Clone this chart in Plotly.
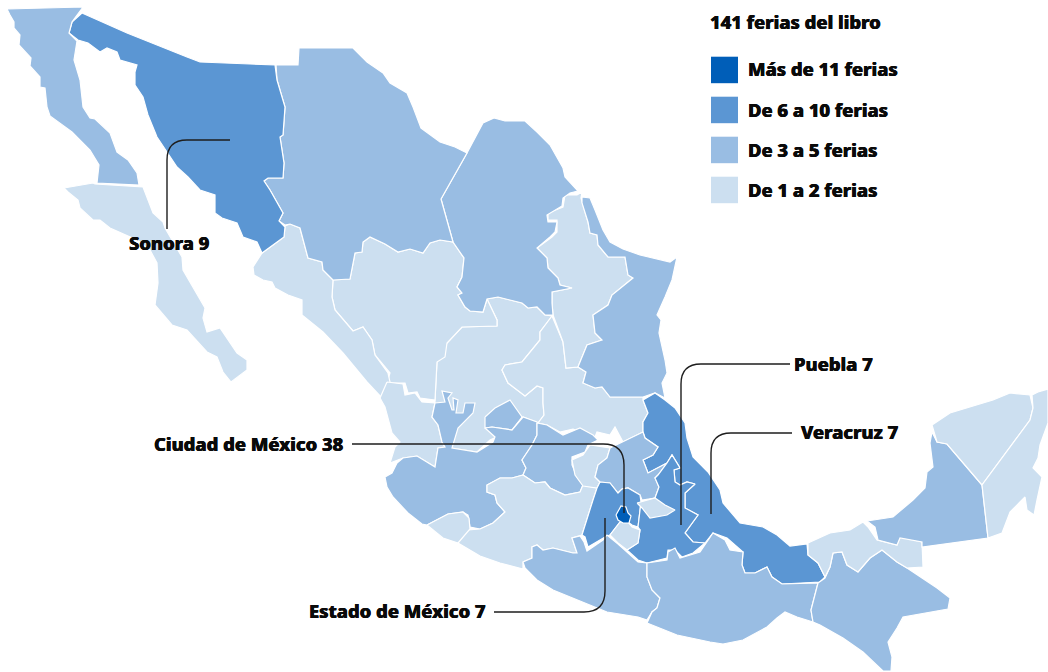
import plotly.graph_objects as go

# Number of fairs per state (labelled values exact, others estimated inside their class)
STATES = ["Zacatecas","Durango","Sinaloa","San Luis Potosí","Nuevo León","Coahuila","Tamaulipas","Chihuahua",
          "Sonora","Baja California","Baja California Sur","Aguascalientes","Nayarit","Jalisco","Guanajuato",
          "Michoacán","Colima","Querétaro","Veracruz","Hidalgo","Estado de México","Puebla","Tlaxcala","Morelos",
          "Ciudad de México","Guerrero","Oaxaca","Chiapas","Tabasco","Campeche","Yucatán","Quintana Roo"]
FERIAS = [2,1,2,2,2,4,4,4, 9,4,2,3,1,5,4, 2,1,2,7,3,7,7,1,2, 38,4,5,4,2,3,2,1]

BIN_LABELS = ["Más de 11 ferias","De 6 a 10 ferias","De 3 a 5 ferias","De 1 a 2 ferias"]
BIN_COLORS = ["#005EB8","#5B96D3","#99BDE3","#CCDFF0"]
TITLE = "141 ferias del libro"
CALLOUTS = ["Sonora 9","Ciudad de México 38","Estado de México 7","Puebla 7","Veracruz 7"]

OUTLINES = {
"Zacatecas":[(435,400),(437,362),(447,343),(462,327),(497,326),(497,320),(487,299),(498,297),(522,303),(528,308),(537,307),(545,315),(552,316),(549,320),(540,332),(540,340),(522,362),(505,365),(502,370),(508,383),(525,396),(537,386),(543,388),(543,403),(544,415),(538,423),(523,417),(512,430),(490,440),(477,452),(452,448),(445,447),(438,425),(432,417),(435,403)],
"Durango":[(333,280),(350,279),(355,253),(362,252),(363,242),(370,237),(385,244),(398,252),(410,249),(423,253),(430,243),(440,240),(453,242),(464,258),(462,277),(457,287),(462,293),(458,295),(465,307),(470,311),(483,312),(487,299),(497,320),(497,326),(462,327),(447,343),(445,357),(437,362),(435,400),(420,398),(417,392),(408,393),(405,383),(387,383),(390,373),(375,355),(372,340),(363,327),(353,331),(348,325),(335,310),(332,297)],
"Sinaloa":[(285,226),(290,224),(300,228),(308,258),(322,262),(323,270),(333,280),(332,297),(335,310),(348,325),(353,331),(363,327),(372,340),(375,355),(388,373),(390,382),(387,398),(382,398),(367,382),(343,353),(323,332),(302,315),(302,300),(288,295),(275,288),(272,282),(263,280),(254,275),(253,267),(262,253),(284,237)],
"San Luis Potosí":[(552,316),(563,342),(566,368),(578,367),(586,372),(583,383),(595,388),(602,387),(610,397),(643,397),(643,400),(648,413),(643,422),(643,432),(623,442),(615,427),(610,435),(597,432),(595,437),(573,429),(560,432),(547,425),(538,423),(544,415),(543,403),(543,388),(537,386),(525,396),(508,383),(502,370),(505,365),(522,362),(540,340),(540,332),(549,320)],
"Nuevo León":[(582,192),(577,195),(565,195),(563,207),(548,213),(548,220),(557,220),(557,232),(552,237),(537,248),(547,258),(548,268),(558,278),(560,285),(572,288),(552,292),(552,303),(553,315),(563,342),(566,368),(578,367),(580,362),(587,345),(602,340),(595,333),(593,315),(608,305),(612,295),(633,278),(628,275),(625,257),(608,257),(598,245),(597,235),(590,233),(588,222),(582,203),(581,198)],
"Coahuila":[(467,153),(480,128),(483,123),(494,118),(505,121),(525,121),(537,132),(550,145),(563,168),(565,177),(578,191),(570,193),(563,198),(562,206),(547,215),(548,222),(557,222),(555,232),(550,237),(537,248),(547,258),(548,268),(558,278),(560,285),(572,288),(552,292),(552,303),(553,315),(545,315),(537,307),(528,308),(522,303),(498,297),(487,299),(483,312),(470,311),(465,307),(458,295),(462,293),(457,287),(462,277),(464,258),(453,242),(441,199)],
"Tamaulipas":[(582,197),(590,198),(595,210),(603,230),(610,242),(623,249),(640,255),(670,262),(677,257),(672,280),(665,297),(657,315),(661,320),(659,333),(665,360),(667,373),(662,383),(665,398),(655,393),(643,397),(610,397),(602,387),(595,388),(583,383),(586,372),(578,367),(580,362),(587,345),(602,340),(595,333),(593,315),(608,305),(612,295),(633,278),(628,275),(625,257),(608,257),(598,245),(597,235),(590,233),(588,222),(582,203)],
"Chihuahua":[(299,48),(353,48),(367,62),(383,73),(390,83),(407,93),(413,107),(421,128),(440,142),(455,147),(467,153),(441,199),(453,242),(440,240),(430,243),(423,253),(410,249),(398,252),(385,244),(370,237),(363,242),(362,252),(355,253),(350,279),(333,280),(323,270),(322,262),(308,258),(300,228),(290,224),(285,225),(279,221),(283,213),(270,190),(264,181),(268,178),(283,178),(284,163),(280,137),(283,135),(285,107),(277,80),(276,65),(298,65)],
"Sonora":[(82,13),(127,33),(187,57),(200,62),(275,65),(277,80),(285,107),(283,135),(280,137),(284,163),(283,178),(268,178),(264,181),(270,190),(283,213),(279,221),(285,227),(284,237),(262,253),(257,242),(243,237),(237,223),(222,218),(215,213),(215,195),(200,190),(188,177),(177,167),(167,152),(157,137),(148,115),(143,97),(135,85),(135,72),(137,65),(120,60),(117,52),(107,48),(100,52),(88,43),(78,40),(69,33),(72,22)],
"Baja California":[(7,9),(83,7),(72,22),(69,33),(77,41),(74,60),(80,80),(83,107),(90,118),(95,119),(110,133),(117,152),(128,160),(137,173),(139,185),(97,183),(99,165),(90,150),(72,132),(50,116),(47,107),(45,88),(40,87),(40,77),(30,66),(31,58),(19,45),(20,35),(14,28),(14,22),(10,15)],
"Baja California Sur":[(64,188),(93,183),(95,184),(143,187),(153,213),(163,222),(165,228),(182,257),(183,270),(195,290),(205,308),(203,318),(207,332),(220,328),(228,340),(237,353),(247,360),(247,370),(231,382),(223,372),(217,357),(207,352),(187,330),(172,325),(155,305),(158,283),(157,263),(150,250),(137,240),(110,228),(100,220),(93,220),(80,208),(78,200),(68,192)],
"Aguascalientes":[(485,417),(495,408),(510,400),(522,417),(512,430),(492,427),(485,428)],
"Nayarit":[(387,382),(403,384),(405,395),(415,393),(422,402),(435,403),(432,417),(438,425),(442,442),(445,447),(438,448),(435,467),(417,456),(403,458),(390,463),(395,447),(400,442),(392,433),(385,407),(380,398)],
"Jalisco":[(385,477),(392,473),(397,463),(403,458),(417,456),(435,467),(438,448),(445,447),(442,442),(438,425),(432,417),(435,403),(445,402),(442,391),(452,393),(448,398),(452,410),(454,410),(453,398),(458,400),(456,413),(463,413),(465,403),(475,403),(473,413),(458,428),(452,448),(477,452),(493,442),(495,437),(485,428),(492,427),(512,430),(523,417),(537,422),(537,435),(532,445),(522,460),(526,468),(523,475),(512,478),(500,478),(487,485),(487,492),(495,495),(497,503),(505,512),(493,523),(480,529),(470,527),(468,515),(463,512),(448,514),(427,525),(422,524),(408,513),(393,497),(387,487)],
"Guanajuato":[(537,423),(547,425),(563,435),(580,428),(593,435),(598,440),(588,445),(585,452),(572,457),(572,465),(577,477),(583,485),(580,492),(565,495),(550,488),(545,482),(535,483),(523,475),(526,468),(522,460),(532,445),(537,435)],
"Michoacán":[(523,475),(535,483),(545,482),(550,488),(565,495),(580,492),(583,485),(597,488),(593,500),(582,535),(572,538),(577,553),(573,553),(553,548),(543,550),(537,545),(532,547),(532,558),(523,562),(523,569),(500,563),(480,556),(458,543),(468,530),(480,529),(493,523),(505,512),(497,503),(495,495),(487,492),(487,485),(500,478),(512,478)],
"Colima":[(427,525),(448,514),(463,512),(469,518),(470,529),(458,543),(443,538)],
"Querétaro":[(590,445),(610,448),(607,458),(598,465),(595,477),(600,482),(597,488),(583,486),(575,475),(572,460),(583,455)],
"Veracruz":[(643,400),(655,393),(665,400),(675,408),(685,423),(687,438),(693,457),(708,472),(720,490),(723,503),(740,523),(763,527),(777,535),(790,546),(807,544),(808,555),(818,563),(825,577),(820,582),(782,584),(772,577),(767,567),(755,573),(745,573),(742,565),(743,552),(727,538),(713,533),(705,543),(693,542),(685,533),(698,515),(685,508),(685,493),(695,484),(687,482),(680,485),(675,482),(674,470),(680,468),(672,455),(667,463),(648,473),(643,460),(653,455),(658,447),(645,438),(643,432),(643,422),(648,413)],
"Hidalgo":[(610,448),(623,442),(643,432),(645,438),(658,447),(653,455),(643,460),(648,473),(667,463),(658,475),(655,478),(659,487),(655,498),(642,500),(640,495),(628,488),(622,489),(618,493),(610,483),(600,482),(595,477),(598,465),(607,458)],
"Estado de México":[(600,482),(610,483),(618,493),(622,489),(628,488),(640,495),(641,502),(638,527),(632,525),(628,522),(620,522),(610,535),(605,537),(588,547),(585,537),(582,535),(593,500),(597,488)],
"Puebla":[(641,502),(655,498),(659,487),(655,478),(658,475),(667,463),(672,455),(680,468),(674,470),(675,482),(680,485),(687,482),(695,484),(685,493),(685,508),(698,515),(685,533),(693,542),(705,543),(693,553),(682,557),(675,550),(668,550),(667,558),(647,563),(638,560),(627,550),(638,543),(640,530),(638,527)],
"Tlaxcala":[(637,503),(655,498),(665,505),(675,510),(667,515),(650,518),(642,508)],
"Morelos":[(620,522),(628,522),(632,527),(640,530),(638,543),(627,550),(618,543),(610,535)],
"Ciudad de México":[(616,515),(621,506),(626,507),(628,513),(631,516),(629,523),(623,523),(618,520)],
"Guerrero":[(523,562),(532,558),(532,547),(537,545),(543,550),(553,548),(573,553),(577,553),(572,538),(580,536),(584,542),(587,551),(603,540),(607,535),(618,544),(625,550),(638,562),(647,563),(647,577),(652,590),(660,598),(657,608),(652,612),(647,620),(638,617),(607,612),(577,600),(553,590),(537,580),(525,568)],
"Oaxaca":[(647,563),(667,560),(668,552),(675,548),(680,558),(700,552),(713,533),(725,540),(730,550),(743,552),(742,565),(745,573),(755,573),(767,567),(772,577),(782,584),(818,583),(811,610),(813,622),(797,617),(785,612),(777,618),(767,627),(743,640),(723,644),(710,642),(677,635),(647,623),(652,612),(657,608),(660,598),(652,590),(647,577)],
"Chiapas":[(818,583),(825,578),(830,567),(833,553),(842,552),(847,565),(858,572),(870,558),(882,550),(897,562),(907,568),(937,588),(950,598),(948,609),(903,617),(897,628),(888,642),(892,657),(891,671),(883,671),(863,652),(843,638),(820,625),(813,622),(811,610)],
"Tabasco":[(808,543),(830,533),(850,530),(863,522),(868,527),(877,540),(897,545),(900,537),(922,542),(923,567),(907,568),(897,562),(882,550),(870,558),(858,572),(847,565),(842,552),(833,553),(830,567),(825,577),(818,563),(808,555)],
"Campeche":[(932,432),(937,442),(947,444),(982,485),(988,538),(922,547),(922,542),(900,538),(897,545),(878,540),(875,527),(867,521),(893,517),(913,500),(925,488),(927,472),(933,467),(930,443)],
"Yucatán":[(932,425),(950,413),(993,400),(1010,393),(1030,395),(1033,408),(1030,420),(982,485),(947,444),(937,442)],
"Quintana Roo":[(1032,395),(1038,392),(1048,389),(1048,423),(1040,445),(1038,458),(1033,468),(1042,477),(1037,500),(1034,515),(1027,510),(1025,497),(1020,502),(1010,512),(1002,533),(988,538),(982,485),(1030,420),(1033,408)],
}

def colour(n):
    if n >= 11: return BIN_COLORS[0]
    if n >= 6: return BIN_COLORS[1]
    if n >= 3: return BIN_COLORS[2]
    return BIN_COLORS[3]

fig = go.Figure()
for name, n in zip(STATES, FERIAS):
    pts = OUTLINES[name] + [OUTLINES[name][0]]
    fig.add_trace(go.Scatter(
        x=[p[0] for p in pts], y=[p[1] for p in pts], mode="lines", fill="toself",
        fillcolor=colour(n), line=dict(color="#FFFFFF", width=1.2), name=name,
        text=f"{name}: {n}", hoverinfo="text", showlegend=False))

FONT = "Noto Sans"
TXT = "#0A0A0A"
SIZE = 18.4
def label(x, y, text, anchor="left"):
    fig.add_annotation(x=x, y=y, xref="x", yref="y", text=text, showarrow=False, xanchor=anchor, yanchor="middle",
                       font=dict(family=FONT, size=SIZE, color=TXT, weight=800,
                                 shadow="0.35px 0 0 #0A0A0A, -0.35px 0 0 #0A0A0A"))

label(708, 21.5, TITLE)
for i, (lab, col) in enumerate(zip(BIN_LABELS, BIN_COLORS)):
    y0 = 56.7 + i * 40
    fig.add_shape(type="rect", x0=711, x1=738, y0=y0, y1=y0 + 26.5, fillcolor=col, line_width=0, layer="above")
    label(746, y0 + 12 + 0.3 * i, lab)

LEADERS = [
    "M 230 140 L 187 140 Q 167 140 167 160 L 167 229",
    "M 352 444 L 603 444 Q 624 444 624 465 L 624 513",
    "M 494 612 L 584 612 Q 605 612 605 591 L 605 518",
    "M 790 364 L 701 364 Q 681 364 681 384 L 681 525",
    "M 792 433 L 731 433 Q 711 433 711 453 L 711 514",
]
for p in LEADERS:
    fig.add_shape(type="path", path=p, line=dict(color="#1E1E1E", width=1.4), layer="above")

label(169, 242, CALLOUTS[0], "center")
label(345, 443, CALLOUTS[1], "right")
label(488, 610.5, CALLOUTS[2], "right")
label(792, 363, CALLOUTS[3])
label(799, 431, CALLOUTS[4])

fig.update_layout(
    width=1048, height=672, margin=dict(l=0, r=0, t=0, b=0),
    paper_bgcolor="#FFFFFF", plot_bgcolor="#FFFFFF", showlegend=False,
    xaxis=dict(range=[0, 1048], visible=False, fixedrange=True),
    yaxis=dict(range=[672, 0], visible=False, fixedrange=True),
)
fig.write_html("out.html", config=dict(displayModeBar=False),
               post_script="document.body.style.margin='0';")
